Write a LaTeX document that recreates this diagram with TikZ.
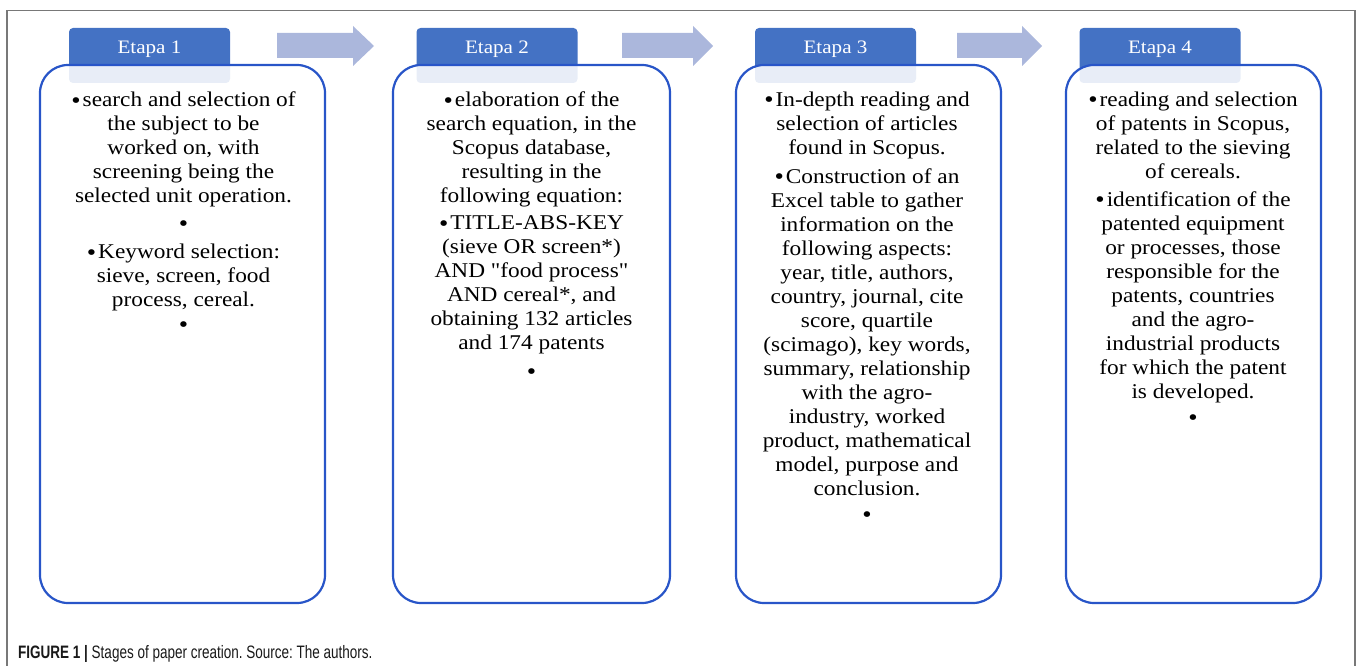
\documentclass[tikz,border=0pt]{standalone}
\usepackage{fontspec}
\setmainfont{Liberation Serif}[FakeStretch=1.11, Ligatures=TeXOff]
\newfontfamily\capfont{Liberation Sans}[FakeStretch=0.75]
\definecolor{tabblue}{RGB}{68,114,196}
\definecolor{boxblue}{RGB}{40,85,200}
\definecolor{arrowblue}{RGB}{171,183,220}
\definecolor{framegray}{RGB}{120,120,120}
\newcommand\bulx{\raisebox{-1.5pt}{\fontsize{24}{24}\selectfont •}\hspace{2pt}}
\newcommand\lbul{\raisebox{-1.5pt}{\fontsize{24}{24}\selectfont •}}
\begin{document}
\begin{tikzpicture}[x=1pt,y=-1pt,
  box/.style={draw=boxblue, line width=2.2pt, rounded corners=28pt, fill=white, fill opacity=0.88, draw opacity=1, minimum height=538pt, inner sep=0pt},
  tab/.style={fill=tabblue, rounded corners=4pt, minimum width=161pt, minimum height=55pt, inner sep=0pt},
  tablabel/.style={anchor=base, inner sep=0pt, text=white, font=\fontsize{19}{22}\selectfont},
  txt/.style={align=center, inner sep=0pt, anchor=north, text=black, font=\fontsize{21}{24}\selectfont},
  blockarrow/.style={fill=arrowblue}]
\useasboundingbox (0,0) rectangle (1358,666);
% frame
\draw[framegray, line width=1.3pt] (7,667) -- (7,10.5) -- (1355,10.5) -- (1355,667);
% tabs
\node[tab] (t1) at (149.5,55.5) {};
\node[tab] (t2) at (497,55.5) {};
\node[tab] (t3) at (835.5,55.5) {};
\node[tab] (t4) at (1160,55.5) {};
% boxes
\node[box, minimum width=285pt] (b1) at (182.5,334) {};
\node[box, minimum width=277pt] (b2) at (531.5,334) {};
\node[box, minimum width=265pt] (b3) at (868.5,334) {};
\node[box, minimum width=255pt] (b4) at (1193.5,334) {};
% tab labels
\node[tablabel] (l1) at (149.5,54) {Etapa 1};
\node[tablabel] (l2) at (497,54) {Etapa 2};
\node[tablabel] (l3) at (835.5,54) {Etapa 3};
\node[tablabel] (l4) at (1160,54) {Etapa 4};
% arrows
\fill[blockarrow] (277,33) -- (353,33) -- (353,26) -- (374,46) -- (353,66) -- (353,58) -- (277,58) -- cycle;
\fill[blockarrow] (622,33) -- (693,33) -- (693,26) -- (713,46) -- (693,66) -- (693,58) -- (622,58) -- cycle;
\fill[blockarrow] (957,33) -- (1022,33) -- (1022,26) -- (1042,46) -- (1022,66) -- (1022,58) -- (957,58) -- cycle;
% texts
\node[txt] (x1) at (183.5,91.7) {\bulx search and selection of\\ the subject to be\\ worked on, with\\ screening being the\\ selected unit operation.\\[3pt] \lbul\\[5pt] \bulx Keyword selection:\\ sieve, screen, food\\ process, cereal.\\ \lbul};
\node[txt] (x2) at (531.5,91.7) {\bulx elaboration of the\\ search equation, in the\\ Scopus database,\\ resulting in the\\ following equation:\\[3pt] \bulx TITLE-ABS-KEY\\ (sieve OR screen*)\\ AND "food process"\\ AND cereal*, and\\ obtaining 132 articles\\ and 174 patents\\[4pt] \lbul};
\node[txt] (x3) at (867,91.7) {\bulx In-depth reading and\\ selection of articles\\ found in Scopus.\\[5pt] \bulx Construction of an\\ Excel table to gather\\ information on the\\ following aspects:\\ year, title, authors,\\ country, journal, cite\\ score, quartile\\ (scimago), key words,\\ summary, relationship\\ with the agro-\\ industry, worked\\ product, mathematical\\ model, purpose and\\ conclusion.\\[2pt] \lbul};
\node[txt] (x4) at (1193,91.7) {\bulx reading and selection\\ of patents in Scopus,\\ related to the sieving\\ of cereals.\\[4pt] \bulx identification of the\\ patented equipment\\ or processes, those\\ responsible for the\\ patents, countries\\ and the agro-\\ industrial products\\ for which the patent\\ is developed.\\[2pt] \lbul};
% caption
\node[anchor=base west, inner sep=0pt, font=\capfont\fontsize{18}{21}\selectfont\frenchspacing, text=black!90] (cap) at (18,658) {\textbf{FIGURE 1 |} Stages of paper creation. Source: The authors.};
\end{tikzpicture}
\end{document}
